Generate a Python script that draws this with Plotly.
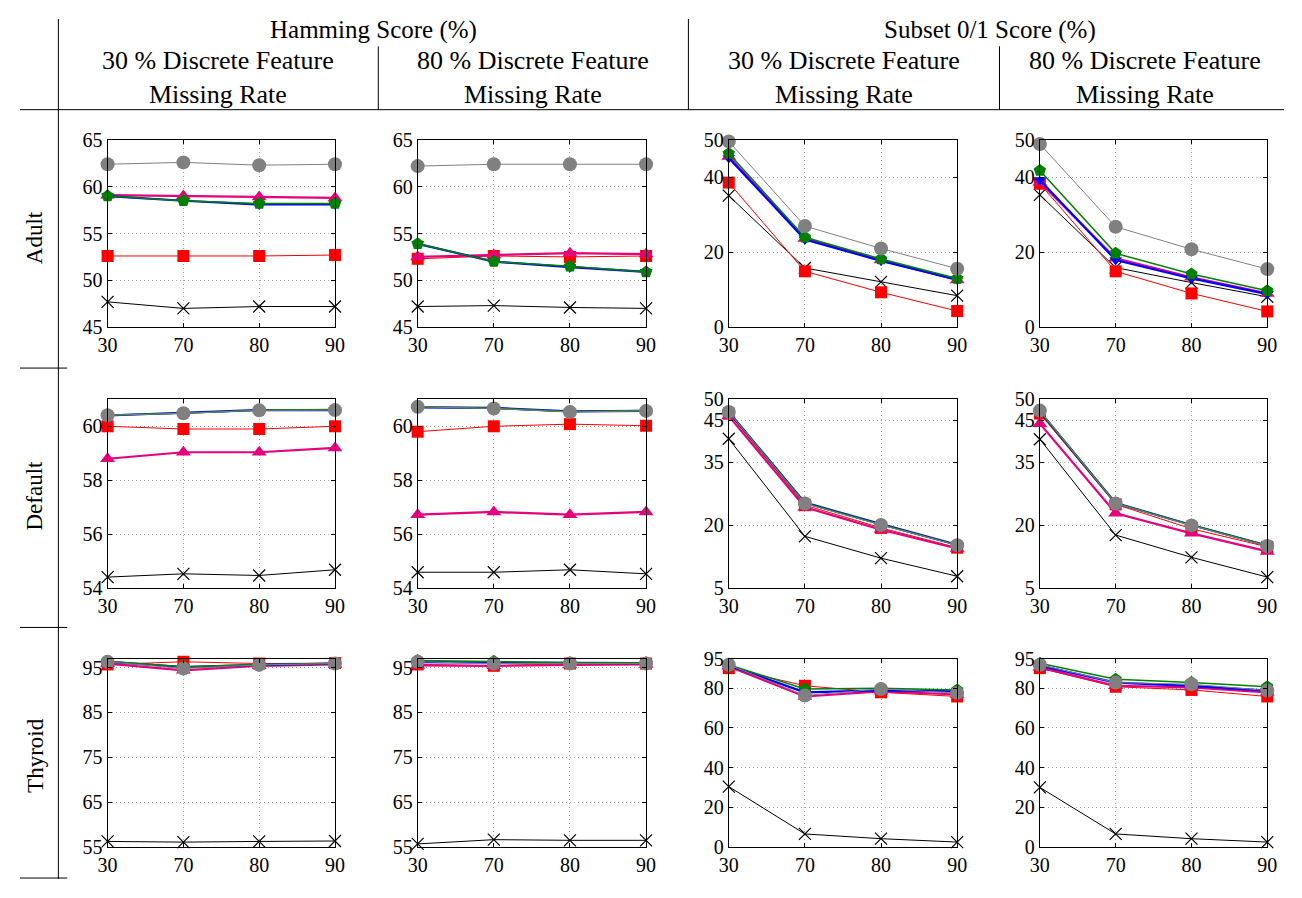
import plotly.graph_objects as go

# page body keeps its default 8px margin, so the figure is sized to fit inside it
PAGE_W, PAGE_H = 1302, 898
OFF = 8
W, H = PAGE_W - 2 * OFF, PAGE_H - 2 * OFF

# x categories (missing rate %)
rates = ["30", "70", "80", "90"]

# ---- Adult ----
adult_ham30 = {
    "cross": [47.7, 47.0, 47.2, 47.2],
    "square": [52.6, 52.6, 52.6, 52.7],
    "triangle": [59.1, 59.0, 58.9, 58.8],
    "down": [59.0, 58.5, 58.1, 58.1],
    "pentagon": [59.0, 58.5, 58.2, 58.2],
    "circle": [62.4, 62.6, 62.3, 62.4],
}
adult_ham80 = {
    "cross": [47.2, 47.3, 47.1, 47.0],
    "square": [52.3, 52.6, 52.5, 52.6],
    "triangle": [52.5, 52.7, 52.9, 52.8],
    "down": [53.9, 52.0, 51.4, 50.9],
    "pentagon": [53.9, 52.0, 51.5, 50.9],
    "circle": [62.2, 62.4, 62.4, 62.4],
}
adult_sub30 = {
    "cross": [35.1, 15.8, 12.1, 8.4],
    "square": [38.6, 14.9, 9.3, 4.3],
    "triangle": [45.6, 23.7, 17.9, 12.6],
    "down": [45.2, 23.4, 17.7, 12.7],
    "pentagon": [46.4, 24.0, 18.2, 13.0],
    "circle": [49.6, 27.0, 21.0, 15.6],
}
adult_sub80 = {
    "cross": [35.3, 15.9, 11.9, 8.1],
    "square": [38.3, 14.9, 9.0, 4.2],
    "triangle": [38.7, 18.4, 13.3, 9.0],
    "down": [39.3, 17.9, 13.0, 8.8],
    "pentagon": [41.8, 19.7, 14.2, 9.7],
    "circle": [48.9, 26.8, 20.8, 15.5],
}

# ---- Default ----
default_ham30 = {
    "cross": [54.42, 54.54, 54.48, 54.69],
    "square": [60.0, 59.9, 59.9, 60.0],
    "triangle": [58.8, 59.04, 59.04, 59.2],
    "down": [60.4, 60.5, 60.6, 60.6],
    "pentagon": [60.42, 60.48, 60.6, 60.62],
    "circle": [60.41, 60.48, 60.59, 60.6],
}
default_ham80 = {
    "cross": [54.6, 54.6, 54.69, 54.54],
    "square": [59.8, 60.0, 60.08, 60.02],
    "triangle": [56.73, 56.83, 56.73, 56.83],
    "down": [60.7, 60.68, 60.55, 60.57],
    "pentagon": [60.72, 60.67, 60.55, 60.58],
    "circle": [60.72, 60.66, 60.53, 60.57],
}
default_sub30 = {
    "cross": [40.6, 17.4, 12.2, 7.9],
    "square": [46.6, 24.8, 19.4, 14.7],
    "triangle": [46.0, 24.3, 19.0, 14.5],
    "down": [47.0, 25.4, 20.3, 15.4],
    "pentagon": [47.0, 25.3, 20.2, 15.3],
    "circle": [47.0, 25.2, 20.1, 15.3],
}
default_sub80 = {
    "cross": [40.5, 17.7, 12.4, 7.7],
    "square": [46.6, 25.0, 19.2, 14.9],
    "triangle": [44.2, 22.9, 18.1, 13.8],
    "down": [47.1, 25.3, 20.1, 15.2],
    "pentagon": [47.1, 25.3, 20.1, 15.2],
    "circle": [47.3, 25.2, 20.0, 15.1],
}

# ---- Thyroid ----
thyroid_ham30 = {
    "cross": [56.2, 56.05, 56.2, 56.3],
    "square": [95.7, 96.3, 95.9, 96.0],
    "triangle": [95.9, 94.4, 95.4, 95.7],
    "down": [96.3, 95.1, 95.6, 95.9],
    "pentagon": [96.4, 95.2, 95.7, 95.9],
    "circle": [96.3, 94.8, 95.6, 95.9],
}
thyroid_ham80 = {
    "cross": [55.65, 56.6, 56.45, 56.45],
    "square": [95.7, 95.4, 95.9, 95.9],
    "triangle": [95.5, 95.4, 95.6, 95.7],
    "down": [96.2, 96.1, 96.0, 96.0],
    "pentagon": [96.6, 96.4, 96.1, 96.1],
    "circle": [96.3, 95.9, 95.9, 95.9],
}
thyroid_sub30 = {
    "cross": [30.4, 6.5, 4.1, 2.4],
    "square": [90.2, 81.3, 78.0, 75.9],
    "triangle": [91.1, 75.9, 78.5, 76.9],
    "down": [91.5, 78.0, 79.0, 78.5],
    "pentagon": [91.9, 79.7, 80.0, 79.2],
    "circle": [91.9, 76.4, 79.7, 77.7],
}
thyroid_sub80 = {
    "cross": [30.0, 6.5, 4.1, 2.4],
    "square": [90.2, 80.8, 79.2, 75.9],
    "triangle": [90.6, 81.3, 80.5, 78.0],
    "down": [91.5, 82.9, 81.3, 78.9],
    "pentagon": [92.7, 84.6, 82.9, 80.8],
    "circle": [91.9, 82.9, 82.1, 78.9],
}

row_labels = ["Adult", "Default", "Thyroid"]
top_headers = ["Hamming Score (%)", "Subset 0/1 Score (%)"]
sub_headers = ["30 % Discrete Feature<br>Missing Rate", "80 % Discrete Feature<br>Missing Rate",
               "30 % Discrete Feature<br>Missing Rate", "80 % Discrete Feature<br>Missing Rate"]

panels = [
    [adult_ham30, adult_ham80, adult_sub30, adult_sub80],
    [default_ham30, default_ham80, default_sub30, default_sub80],
    [thyroid_ham30, thyroid_ham80, thyroid_sub30, thyroid_sub80],
]
y_ranges = [
    [[45, 65], [45, 65], [0, 50], [0, 50]],
    [[54, 61], [54, 61], [5, 50], [5, 50]],
    [[55, 97], [55, 97], [0, 95], [0, 95]],
]
y_ticks = [
    [[45, 50, 55, 60, 65], [45, 50, 55, 60, 65], [0, 20, 40, 50], [0, 20, 40, 50]],
    [[54, 56, 58, 60], [54, 56, 58, 60], [5, 20, 35, 45, 50], [5, 20, 35, 45, 50]],
    [[55, 65, 75, 85, 95], [55, 65, 75, 85, 95], [0, 20, 40, 60, 80, 95], [0, 20, 40, 60, 80, 95]],
]

# styles
styles = {
    "cross": dict(color="black", width=1, symbol="x-thin-open", size=12, mline=1.2),
    "square": dict(color="#FF0000", width=1, symbol="square", size=12, mline=0),
    "triangle": dict(color="#E6007E", width=2.2, symbol="triangle-up", size=13, mline=0),
    "down": dict(color="#0000FF", width=2.2, symbol="triangle-down", size=11, mline=0),
    "pentagon": dict(color="#008000", width=1.5, symbol="pentagon", size=13, mline=0),
    "circle": dict(color="#808080", width=1, symbol="circle", size=14, mline=0),
}
order = ["cross", "square", "triangle", "down", "pentagon", "circle"]

# panel geometry in page pixels
col_px = [(99, 330), (414, 646), (730, 962), (1046, 1277)]
row_px = [(132, 324), (398, 592), (664, 857)]

def px_x(x):
    return (x - OFF) / W

def px_y(y):
    return 1 - (y - OFF) / H

FONT = "Liberation Serif"
fig = go.Figure()
layout_axes = {}
idx = 0
for r in range(3):
    for c in range(4):
        idx += 1
        xa = "x" if idx == 1 else f"x{idx}"
        ya = "y" if idx == 1 else f"y{idx}"
        data = panels[r][c]
        for key in order:
            s = styles[key]
            fig.add_trace(go.Scatter(
                x=rates, y=data[key], xaxis=xa, yaxis=ya, mode="lines+markers",
                line=dict(color=s["color"], width=s["width"]),
                marker=dict(symbol=s["symbol"], size=s["size"], color=s["color"],
                            line=dict(width=s["mline"], color=s["color"])),
                cliponaxis=False, showlegend=False, name=key,
            ))
        x0, x1 = col_px[c]
        y0, y1 = row_px[r]
        axcommon = dict(showline=True, linecolor="black", linewidth=1, mirror="ticks",
                        ticks="inside", ticklen=4, tickcolor="black",
                        showgrid=True, gridcolor="#a8a8a8", griddash="1px,3px", gridwidth=1,
                        zeroline=False, tickfont=dict(family=FONT, size=20, color="black"))
        layout_axes["xaxis" if idx == 1 else f"xaxis{idx}"] = dict(
            axcommon, domain=[px_x(x0), px_x(x1)], anchor=ya, type="category",
            range=[0, 3], fixedrange=True)
        layout_axes["yaxis" if idx == 1 else f"yaxis{idx}"] = dict(
            axcommon, domain=[px_y(y1), px_y(y0)], anchor=xa, range=y_ranges[r][c],
            tickvals=y_ticks[r][c], ticktext=[str(v) for v in y_ticks[r][c]],
            fixedrange=True)

shapes = []
def line(x0, y0, x1, y1):
    shapes.append(dict(type="line", xref="paper", yref="paper",
                       x0=px_x(x0), y0=px_y(y0), x1=px_x(x1), y1=px_y(y1),
                       line=dict(color="black", width=1)))

line(49, 8, 49, 890)
line(10, 101, 1294, 101)
line(689, 8, 689, 101)
line(374, 36, 374, 101)
line(1005, 36, 1005, 101)
for yy in (366, 632, 889):
    line(10, yy, 58, yy)

annotations = []
def text(x, y, t, size=22, angle=0):
    annotations.append(dict(xref="paper", yref="paper", x=px_x(x), y=px_y(y), text=t,
                            showarrow=False, xanchor="center", yanchor="middle",
                            textangle=angle,
                            font=dict(family=FONT, size=size, color="black")))

text(369, 19, top_headers[0], size=25)
text(995, 19, top_headers[1], size=25)
sub_centers = [211, 531, 847, 1153]
for cx, t in zip(sub_centers, sub_headers):
    text(cx, 68, t, size=26)
row_centers = [232, 497, 763]
for cy, t in zip(row_centers, row_labels):
    text(25, cy, t, size=23, angle=-90)

fig.update_layout(
    width=W, height=H, margin=dict(l=0, r=0, t=0, b=0),
    paper_bgcolor="white", plot_bgcolor="white",
    shapes=shapes, annotations=annotations, showlegend=False,
    **layout_axes,
)

fig.write_html("out.html", config={"displayModeBar": False})
